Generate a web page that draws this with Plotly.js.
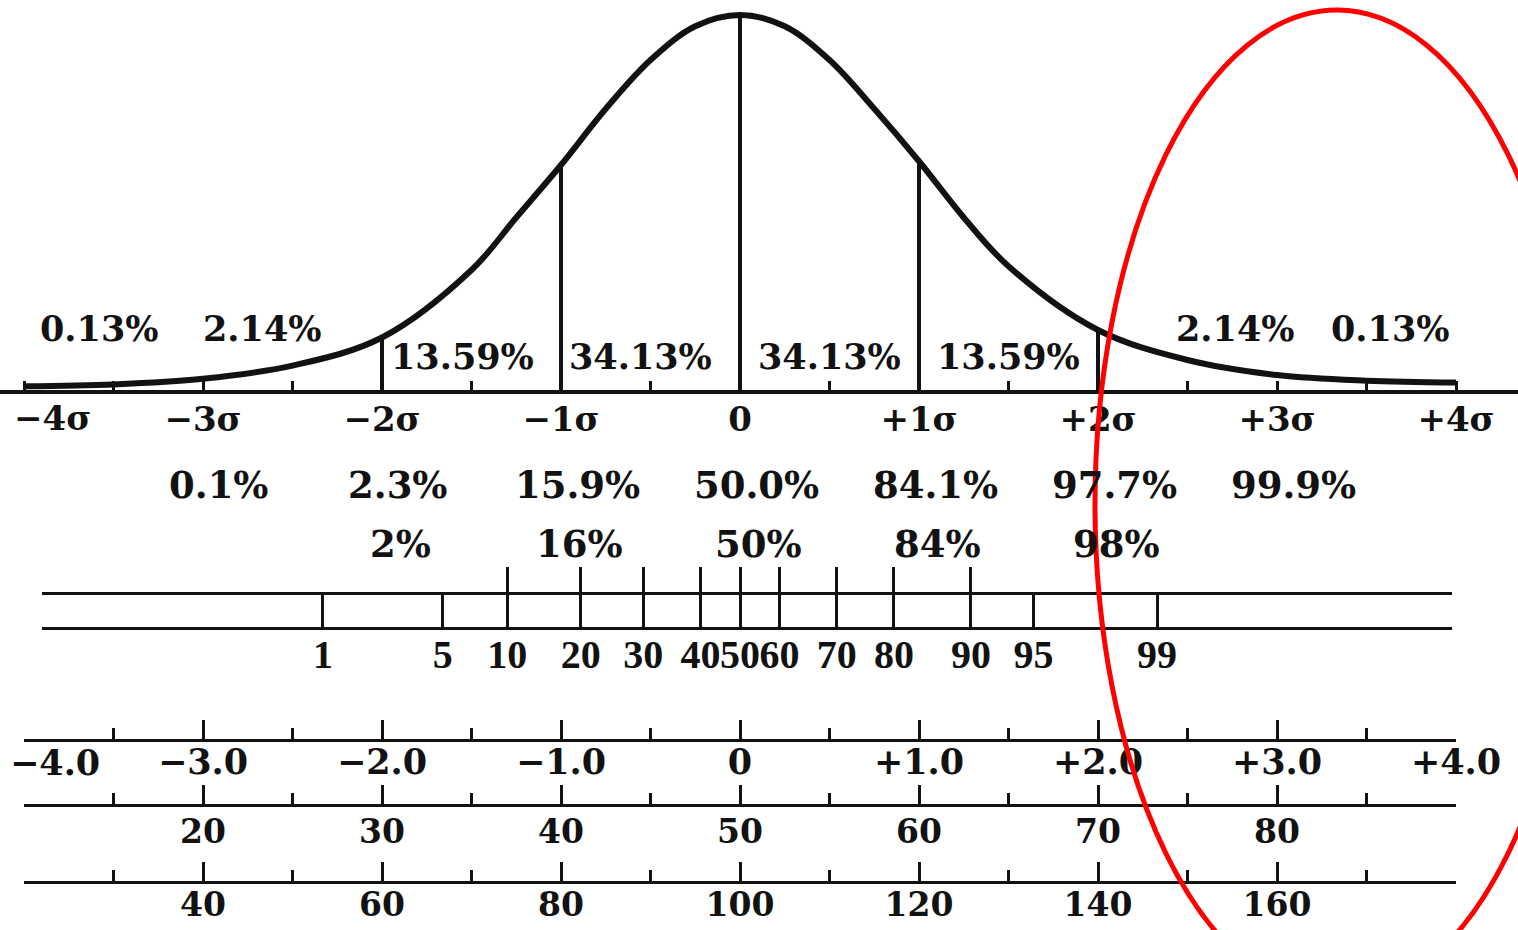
<!DOCTYPE html>
<html>
<head>
<meta charset="utf-8">
<script src="https://cdn.plot.ly/plotly-3.0.1.min.js"></script>
<style>html,body{margin:0;padding:0;background:#fff}#chart{width:1518px;height:930px}</style>
</head>
<body>
<div id="chart"></div>
<script>
// ---------- data ----------
const curveZ      = [-4, -3.5, -3, -2.5, -2, -1.5, -1.25, -1, -0.75, -0.5, -0.25, 0, 0.25, 0.5, 0.75, 1, 1.25, 1.5, 2, 2.5, 3, 3.5, 4];
const curveHeight = [0.01, 0.015, 0.03, 0.065, 0.14, 0.32, 0.46, 0.60, 0.75, 0.88, 0.97, 1.0, 0.97, 0.88, 0.75, 0.61, 0.46, 0.33, 0.16, 0.08, 0.04, 0.025, 0.02];

const dividerZ   = [-2, -1, 0, 1, 2];
const dividerTop = [0.14, 0.60, 1.0, 0.61, 0.16];

const sigmaPositions = [-4, -3, -2, -1, 0, 1, 2, 3, 4];
const sigmaLabels    = ['−4σ', '−3σ', '−2σ', '−1σ', '0', '+1σ', '+2σ', '+3σ', '+4σ'];
const halfSigma      = [-3.5, -2.5, -1.5, -0.5, 0.5, 1.5, 2.5, 3.5];

const segmentLabels = ['0.13%', '2.14%', '13.59%', '34.13%', '34.13%', '13.59%', '2.14%', '0.13%'];

const cumulativeZ      = [-3, -2, -1, 0, 1, 2, 3];
const cumulativeLabels = ['0.1%', '2.3%', '15.9%', '50.0%', '84.1%', '97.7%', '99.9%'];
const roundedZ         = [-2, -1, 0, 1, 2];
const roundedLabels    = ['2%', '16%', '50%', '84%', '98%'];

const percentileLabels = ['1', '5', '10', '20', '30', '40', '50', '60', '70', '80', '90', '95', '99'];
const percentileZ      = [-2.33, -1.66, -1.30, -0.89, -0.54, -0.22, 0, 0.22, 0.54, 0.86, 1.29, 1.64, 2.33];

const zTickVals  = [-4, -3, -2, -1, 0, 1, 2, 3, 4];
const zTickText  = ['−4.0', '−3.0', '−2.0', '−1.0', '0', '+1.0', '+2.0', '+3.0', '+4.0'];
const zMinor     = [-3.5, -2.5, -1.5, -0.5, 0.5, 1.5, 2.5, 3.5];

const tTickVals  = [10, 20, 30, 40, 50, 60, 70, 80, 90];
const tTickText  = ['', '20', '30', '40', '50', '60', '70', '80', ''];
const tMinor     = [15, 25, 35, 45, 55, 65, 75, 85];

const iqTickVals = [20, 40, 60, 80, 100, 120, 140, 160, 180];
const iqTickText = ['', '40', '60', '80', '100', '120', '140', '160', ''];
const iqMinor    = [30, 50, 70, 90, 110, 130, 150, 170];

// ---------- helpers (layout only) ----------
const W = 1518, H = 930;
const py = v => 1 - v / H;          // pixel row -> paper y
const px = v => v / W;              // pixel col -> paper x
const ink = '#121212';
const serif = {family: 'DejaVu Serif', size: 36, color: ink, weight: 'bold'};
const X0 = 740, UNIT = 179;         // pixel position of z=0 and pixels per sigma
const zAt = p => (p - X0) / UNIT;
const dropFirst = arr => arr.map((t, i) => i === 0 ? '' : t);

// ---------- traces ----------
const divX = [], divY = [];
dividerZ.forEach((z, i) => { divX.push(z, z, null); divY.push(0, dividerTop[i], null); });

const traces = [
  {type: 'scatter', mode: 'lines', x: curveZ, y: curveHeight, line: {color: ink, width: 6, shape: 'spline', smoothing: 1}, hoverinfo: 'skip', showlegend: false, cliponaxis: false},
  {type: 'scatter', mode: 'lines', x: divX, y: divY, line: {color: ink, width: 4}, hoverinfo: 'skip', showlegend: false, connectgaps: false},
  {type: 'scatter', x: [], y: [], xaxis: 'x2', yaxis: 'y', showlegend: false, hoverinfo: 'skip'},
  {type: 'scatter', x: [], y: [], xaxis: 'x3', yaxis: 'y', showlegend: false, hoverinfo: 'skip'},
  {type: 'scatter', x: [], y: [], xaxis: 'x4', yaxis: 'y', showlegend: false, hoverinfo: 'skip'},
  {type: 'scatter', x: [], y: [], xaxis: 'x5', yaxis: 'y', showlegend: false, hoverinfo: 'skip'},
  {type: 'scatter', x: [], y: [], xaxis: 'x6', yaxis: 'y', showlegend: false, hoverinfo: 'skip'}
];

// ---------- annotations ----------
const annotations = [];
const segMid = [];
for (let i = 0; i < sigmaPositions.length - 1; i++) segMid.push((sigmaPositions[i] + sigmaPositions[i + 1]) / 2);
const segShift = [-14, -30, -9, -10, 0, 0, 48, 24];
segmentLabels.forEach((t, i) => {
  const outer = Math.abs(segMid[i]) > 2;
  annotations.push({text: t, x: segMid[i], xref: 'x', y: py(outer ? 328 : 357), yref: 'paper',
    xshift: segShift[i], showarrow: false, xanchor: 'center', yanchor: 'middle', font: {...serif, size: 35}});
});
cumulativeLabels.forEach((t, i) => {
  annotations.push({text: t, x: cumulativeZ[i], xref: 'x', y: py(485), yref: 'paper', xshift: 16,
    showarrow: false, xanchor: 'center', yanchor: 'middle', font: {...serif, size: 37}});
});
roundedLabels.forEach((t, i) => {
  annotations.push({text: t, x: roundedZ[i], xref: 'x', y: py(544), yref: 'paper', xshift: 18,
    showarrow: false, xanchor: 'center', yanchor: 'middle', font: {...serif, size: 37}});
});
// left-most labels, kept inside the picture
annotations.push({text: sigmaLabels[0], x: sigmaPositions[0], xref: 'x', y: py(418), yref: 'paper', xshift: -12,
  showarrow: false, xanchor: 'left', yanchor: 'middle', font: {...serif, size: 34}});
annotations.push({text: zTickText[0], x: zTickVals[0], xref: 'x2', y: py(762), yref: 'paper', xshift: -16,
  showarrow: false, xanchor: 'left', yanchor: 'middle', font: {...serif, size: 35}});

// ---------- axes ----------
function scaleAxis(pos, range, vals, text, minorVals, size, standoff) {
  return {
    domain: [px(X0 - 4 * UNIT), px(X0 + 4 * UNIT)], range: range,
    anchor: 'free', position: pos,
    showline: true, linewidth: 3, linecolor: ink,
    ticks: 'inside', ticklen: 19, tickwidth: 3, tickcolor: ink,
    tickmode: 'array', tickvals: vals, ticktext: text, tickangle: 0,
    minor: {tickmode: 'array', tickvals: minorVals, ticks: 'inside', ticklen: 11, tickwidth: 3, tickcolor: ink, showgrid: false},
    showgrid: false, zeroline: false, fixedrange: true,
    ticklabeloverflow: 'allow', ticklabelstandoff: standoff,
    tickfont: {...serif, size: size}
  };
}

const pDomain = [px(42), px(1452)];
const pRange = [zAt(42), zAt(1452)];
const tallIdx = percentileLabels.map((l, i) => (+l >= 10 && +l <= 90) ? i : -1).filter(i => i >= 0);

const layout = {
  width: W, height: H,
  margin: {l: 0, r: 0, t: 0, b: 0, pad: 0},
  paper_bgcolor: '#ffffff', plot_bgcolor: 'rgba(0,0,0,0)',
  showlegend: false,
  xaxis: {
    domain: [0, 1], range: [zAt(0), zAt(W)], anchor: 'y',
    showline: true, linewidth: 4, linecolor: ink,
    ticks: 'inside', ticklen: 9, tickwidth: 3, tickcolor: ink,
    tickmode: 'array', tickvals: sigmaPositions, ticktext: dropFirst(sigmaLabels), tickangle: 0,
    minor: {tickmode: 'array', tickvals: halfSigma, ticks: 'inside', ticklen: 9, tickwidth: 3, tickcolor: ink, showgrid: false},
    showgrid: false, zeroline: false, fixedrange: true,
    ticklabeloverflow: 'allow', ticklabelstandoff: -4,
    tickfont: {...serif, size: 34}
  },
  yaxis: {
    domain: [py(390), py(7.5)], range: [0, 1.02],
    visible: false, showgrid: false, zeroline: false, fixedrange: true
  },
  xaxis2: scaleAxis(py(740), [-4, 4], zTickVals, dropFirst(zTickText), zMinor, 35, -10),
  xaxis3: scaleAxis(py(805), [10, 90], tTickVals, tTickText, tMinor, 33, -4),
  xaxis4: scaleAxis(py(882), [20, 180], iqTickVals, iqTickText, iqMinor, 33, -8),
  xaxis5: {
    domain: pDomain, range: pRange, anchor: 'free', position: py(628),
    showline: true, linewidth: 3, linecolor: ink,
    ticks: 'inside', ticklen: 35, tickwidth: 3, tickcolor: ink,
    tickmode: 'array', tickvals: percentileZ, ticktext: percentileLabels, tickangle: 0,
    showgrid: false, zeroline: false, fixedrange: true,
    ticklabeloverflow: 'allow', ticklabelstandoff: -10,
    tickfont: {family: 'Liberation Serif', size: 40, color: ink, weight: 'bold'}
  },
  xaxis6: {
    domain: pDomain, range: pRange, anchor: 'free', position: py(593), side: 'top',
    showline: true, linewidth: 3, linecolor: ink,
    ticks: 'outside', ticklen: 25, tickwidth: 3, tickcolor: ink,
    tickmode: 'array', tickvals: tallIdx.map(i => percentileZ[i]), ticktext: tallIdx.map(() => ''),
    showticklabels: false,
    showgrid: false, zeroline: false, fixedrange: true
  },
  annotations: annotations,
  shapes: [
    {type: 'circle', xref: 'paper', yref: 'paper', layer: 'above',
     x0: px(1095), x1: px(1579), y0: py(998), y1: py(10),
     line: {color: '#ff0000', width: 5}}
  ]
};

Plotly.newPlot('chart', traces, layout, {displayModeBar: false, staticPlot: true});
</script>
</body>
</html>
